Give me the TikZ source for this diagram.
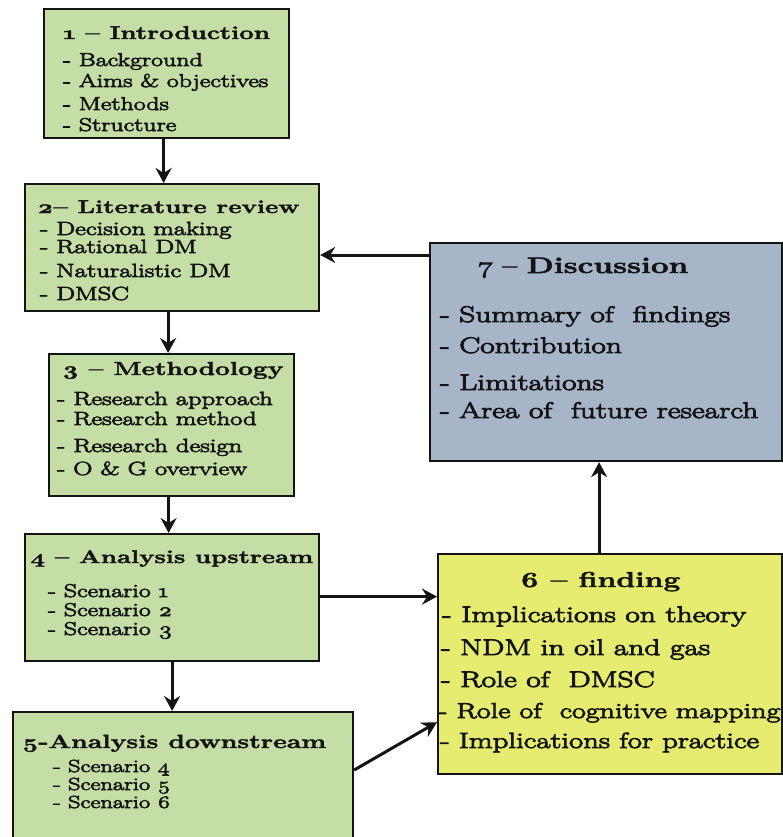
\documentclass[tikz,border=0pt]{standalone}
\usepackage{fontspec}
\setmainfont{Latin Modern Roman}[Numbers=OldStyle, FakeStretch=1.4, BoldFeatures={FakeBold=2.2}]
\newfontfamily\itemfont{Latin Modern Roman}[Numbers=OldStyle, FakeStretch=1.4, FakeBold=4]
\usetikzlibrary{arrows.meta}

\definecolor{boxgreen}{RGB}{196,222,166}
\definecolor{boxblue}{RGB}{166,181,200}
\definecolor{boxyellow}{RGB}{230,236,112}
\definecolor{inkdark}{RGB}{20,20,20}

\tikzset{
  box/.style={draw=inkdark, line width=2.2pt, inner sep=0pt, anchor=north west},
  title/.style={anchor=base west, inner sep=0pt, text=inkdark, font=\bfseries},
  entry/.style={anchor=base west, inner sep=0pt, text=inkdark, font=\itemfont},
  arr/.style={draw=inkdark, line width=3pt, -{Stealth[length=15pt,width=16pt,inset=5pt]}},
}

\newcommand{\fs}[1]{\fontsize{#1}{#1}\selectfont}

\begin{document}
\begin{tikzpicture}[x=1pt, y=-1pt]
\useasboundingbox (0,0) rectangle (783,837);

% chapter boxes
\node[box, fill=boxgreen,  minimum width=245pt, minimum height=129pt] (b1) at (43,8) {};
\node[box, fill=boxgreen,  minimum width=294pt, minimum height=127pt] (b2) at (24,183) {};
\node[box, fill=boxgreen,  minimum width=245pt, minimum height=142pt] (b3) at (48,353) {};
\node[box, fill=boxgreen,  minimum width=294pt, minimum height=127pt] (b4) at (24,533) {};
\node[box, fill=boxgreen,  minimum width=340pt, minimum height=140pt] (b5) at (12,711) {};
\node[box, fill=boxblue,   minimum width=352pt, minimum height=218pt] (b7) at (429,242) {};
\node[box, fill=boxyellow, minimum width=344pt, minimum height=220pt] (b6) at (437,553) {};

% 1 - Introduction
\node[title] (t1)  at (63,39)  {\fs{18.5}1 – Introduction};
\node[entry] (t1a) at (63,66)  {\fs{18.5}- Background};
\node[entry] (t1b) at (63,87)  {\fs{18.5}- Aims \& objectives};
\node[entry] (t1c) at (63,110) {\fs{18.5}- Methods};
\node[entry] (t1d) at (63,131) {\fs{18.5}- Structure};

% 2 - Literature review
\node[title] (t2)  at (37,213) {\fs{18.5}2– Literature review};
\node[entry] (t2a) at (40,235) {\fs{19}- Decision making};
\node[entry] (t2b) at (40,253) {\fs{19}- Rational DM};
\node[entry] (t2c) at (40,277) {\fs{19}- Naturalistic DM};
\node[entry] (t2d) at (40,300) {\fs{19}- DMSC};

% 3 - Methodology
\node[title] (t3)  at (62,375) {\fs{18.8}3 – Methodology};
\node[entry] (t3a) at (57,405) {\fs{19}- Research approach};
\node[entry] (t3b) at (57,425) {\fs{19}- Research method};
\node[entry] (t3c) at (57,452) {\fs{19}- Research design};
\node[entry] (t3d) at (57,475) {\fs{19}- O \& G overview};

% 4 - Analysis upstream
\node[title] (t4)  at (30,563) {\fs{18.4}4 – Analysis upstream};
\node[entry] (t4a) at (48,597) {\fs{18.5}- Scenario 1};
\node[entry] (t4b) at (48,616) {\fs{18.5}- Scenario 2};
\node[entry] (t4c) at (48,635) {\fs{18.5}- Scenario 3};

% 5 - Analysis downstream
\node[title] (t5)  at (22,748) {\fs{19}5-Analysis downstream};
\node[entry] (t5a) at (53,772) {\fs{17.5}- Scenario 4};
\node[entry] (t5b) at (53,790) {\fs{17.5}- Scenario 5};
\node[entry] (t5c) at (53,808) {\fs{17.5}- Scenario 6};

% 6 - finding
\node[title] (t6)  at (520,587) {\fs{21.5}6 – finding};
\node[entry] (t6a) at (442,622) {\fs{22.5}- Implications on theory};
\node[entry] (t6b) at (441,655) {\fs{22.5}- NDM in oil and gas};
\node[entry] (t6c) at (441,687) {\fs{22.5}- Role of~~DMSC};
\node[entry] (t6d) at (438,718) {\fs{21.5}- Role of~~cognitive mapping};
\node[entry] (t6e) at (440,748) {\fs{22}- Implications for practice};

% 7 - Discussion
\node[title] (t7)  at (478,273) {\fs{22.5}{\mdseries\itemfont 7 – }Discussion};
\node[entry] (t7a) at (440,322) {\fs{22.5}- Summary of~~findings};
\node[entry] (t7b) at (440,353) {\fs{22.5}- Contribution};
\node[entry] (t7c) at (440,390) {\fs{22.5}- Limitations};
\node[entry] (t7d) at (440,418) {\fs{22.5}- Area of~~future research};

% connectors
\draw[arr] ([xshift=-3pt]b1.south) -- ([xshift=-3pt]b1.south |- b2.north);
\draw[arr] ([xshift=-4pt]b2.south) -- ([xshift=-4pt]b2.south |- b3.north);
\draw[arr] ([xshift=-3pt]b3.south) -- ([xshift=-3pt]b3.south |- b4.north);
\draw[arr] (b4.south) -- (b4.south |- b5.north);
\draw[arr] ([yshift=1pt]b4.east) -- ([yshift=1pt]b4.east -| b6.west);
\draw[arr] ([yshift=-59pt]b5.north east) -- ([yshift=53pt]b6.south west);
\draw[arr] ([xshift=-11pt]b6.north) -- ([xshift=-11pt]b6.north |- b7.south);
\draw[arr] ([yshift=-13pt]b7.north west) -- ([yshift=-13pt]b7.north west -| b2.east);
\end{tikzpicture}
\end{document}
